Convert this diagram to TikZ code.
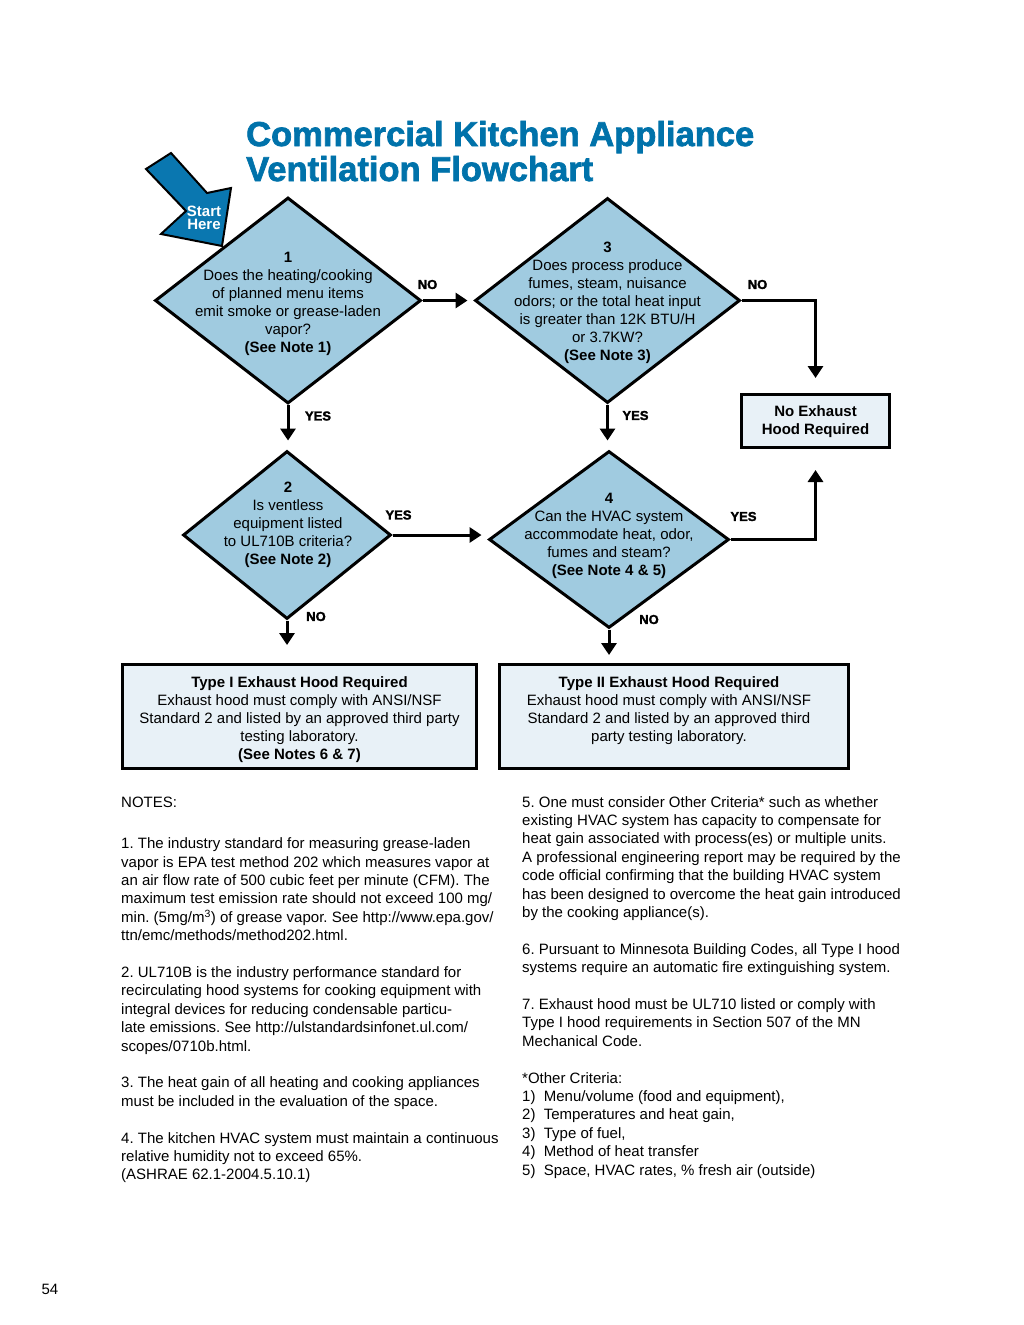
\documentclass[tikz,border=0pt]{standalone}
\usepackage{fontspec}
\setmainfont{Liberation Sans}
\newfontfamily\heavyfont[FakeBold=2]{Liberation Sans Bold}
\usetikzlibrary{shapes.geometric,arrows.meta,positioning,calc}
\definecolor{titleblue}{RGB}{0,114,170}
\definecolor{startblue}{RGB}{10,119,176}
\definecolor{qblue}{RGB}{160,203,224}
\definecolor{boxblue}{RGB}{232,241,247}
\frenchspacing

\begin{document}
\begin{tikzpicture}[x=1pt,y=-1pt,
  question/.style n args={2}{diamond,draw,line width=3pt,fill=qblue,inner sep=0pt,minimum width=#1,minimum height=#2},
  qtext/.style={align=center,inner sep=0pt,font=\fontsize{15}{18}\selectfont},
  result/.style n args={2}{rectangle,draw,line width=3pt,fill=boxblue,inner sep=0pt,minimum width=#1,minimum height=#2},
  flow/.style={line width=3pt,-{Triangle[width=15pt,length=12pt]}},
  lbl/.style={inner sep=0pt,font=\heavyfont\fontsize{13}{13}\selectfont},
  notes/.style={align=left,inner sep=0pt,anchor=north west,font=\fontsize{15}{18.4}\selectfont}]
\useasboundingbox (0,0) rectangle (1024,1325);

% title
\node[anchor=base west,inner sep=0pt,text=titleblue,font=\heavyfont\fontsize{34.5}{35}\selectfont] (title1) at (246,146) {Commercial Kitchen Appliance};
\node[anchor=base west,inner sep=0pt,text=titleblue,font=\heavyfont\fontsize{34.5}{35}\selectfont] (title2) at (246,181) {Ventilation Flowchart};

% questions
\node[question={266}{206}] (d1) at (288,300.5) {};
\node[question={265}{205}] (d3) at (607.5,300.5) {};
\node[question={208}{168}] (d2) at (287,535) {};
\node[question={240}{177}] (d4) at (609,539.5) {};

\node[qtext,yshift=-3pt] (q1) at (d1) {\textbf{1}\\Does the heating/cooking\\of planned menu items\\emit smoke or grease-laden\\vapor?\\\textbf{(See Note 1)}};
\node[qtext,yshift=-2pt] (q3) at (d3) {\textbf{3}\\Does process produce\\fumes, steam, nuisance\\odors; or the total heat input\\is greater than 12K BTU/H\\or 3.7KW?\\\textbf{(See Note 3)}};
\node[qtext,yshift=10pt,xshift=1pt] (q2) at (d2) {\textbf{2}\\Is ventless\\equipment listed\\to UL710B criteria?\\\textbf{(See Note 2)}};
\node[qtext,yshift=4pt] (q4) at (d4) {\textbf{4}\\Can the HVAC system\\accommodate heat, odor,\\fumes and steam?\\\textbf{(See Note 4 \& 5)}};

% results
\node[result={148}{53}] (noex) at (815.5,421) {};
\node[qtext,font=\bfseries\fontsize{15}{18}\selectfont,yshift=-1pt] (noext) at (noex) {No Exhaust\\Hood Required};
\node[result={354}{104}] (type1) at (299.5,716.5) {};
\node[result={349}{104}] (type2) at (674,716.5) {};
\node[qtext,anchor=north,yshift=-13pt] (type1t) at (type1.north) {\textbf{Type I Exhaust Hood Required}\\Exhaust hood must comply with ANSI/NSF\\Standard 2 and listed by an approved third party\\testing laboratory.\\\textbf{(See Notes 6 \& 7)}};
\node[qtext,anchor=north,yshift=-13pt] (type2t) at (type2.north -| 669,0) {\textbf{Type II Exhaust Hood Required}\\Exhaust hood must comply with ANSI/NSF\\Standard 2 and listed by an approved third\\party testing laboratory.};

% connectors
\draw[flow,shorten >=9pt] (d1.south) -- (d1.south |- d2.north) node[lbl,pos=0,xshift=30pt,yshift=-11pt] (y1) {YES};
\draw[flow,shorten >=6pt] (d1.east) -- (d3.west) node[lbl,pos=0,xshift=5pt,yshift=16pt] (n1) {NO};
\draw[flow,shorten >=15pt] (d3.east) -| (noex.north) node[lbl,pos=0,xshift=16pt,yshift=16pt] (n3) {NO};
\draw[flow,shorten >=9pt] (d3.south) -- (d3.south |- d4.north) node[lbl,pos=0,xshift=28pt,yshift=-11pt] (y3) {YES};
\draw[flow,shorten >=6pt] (d2.east) -- (d2.east -| d4.west) node[lbl,pos=0,xshift=6pt,yshift=20pt] (y2) {YES};
\draw[flow,shorten >=21pt] (d4.east) -| (noex.south) node[lbl,pos=0,xshift=13pt,yshift=23pt] (y4) {YES};
\draw[flow,shorten >=18pt] (d2.south) -- (d2.south |- type1.north) node[lbl,pos=0,xshift=29pt,yshift=4pt] (n2) {NO};
\draw[flow,shorten >=8pt] (d4.south) -- (d4.south |- type2.north) node[lbl,pos=0,xshift=40pt,yshift=10pt] (n4) {NO};

% start arrow
\draw[fill=startblue,line width=2pt,line join=miter] (146,169) -- (171,153) -- (207,193) -- (231,188) -- (222,246) -- (161,234) -- (186,211) -- cycle;
\node[align=center,inner sep=0pt,text=white,font=\bfseries\fontsize{15}{13}\selectfont] (start) at (204,218) {Start\\Here};

% notes
\node[notes] (notesl) at (121,797) {NOTES:\\[22.6pt]
1. The industry standard for measuring grease-laden\\
vapor is EPA test method 202 which measures vapor at\\
an air flow rate of 500 cubic feet per minute (CFM). The\\
maximum test emission rate should not exceed 100 mg/\\
min. (5mg/m\textsuperscript{3}) of grease vapor. See http://www.epa.gov/\\
ttn/emc/methods/method202.html.\\[18.4pt]
2. UL710B is the industry performance standard for\\
recirculating hood systems for cooking equipment with\\
integral devices for reducing condensable particu-\\
late emissions. See http://ulstandardsinfonet.ul.com/\\
scopes/0710b.html.\\[18.4pt]
3. The heat gain of all heating and cooking appliances\\
must be included in the evaluation of the space.\\[18.4pt]
4. The kitchen HVAC system must maintain a continuous\\
relative humidity not to exceed 65\%.\\
(ASHRAE 62.1-2004.5.10.1)};
\node[notes] (notesr) at (522,796) {5. One must consider Other Criteria* such as whether\\
existing HVAC system has capacity to compensate for\\
heat gain associated with process(es) or multiple units.\\
A professional engineering report may be required by the\\
code official confirming that the building HVAC system\\
has been designed to overcome the heat gain introduced\\
by the cooking appliance(s).\\[18.4pt]
6. Pursuant to Minnesota Building Codes, all Type I hood\\
systems require an automatic fire extinguishing system.\\[18.4pt]
7. Exhaust hood must be UL710 listed or comply with\\
Type I hood requirements in Section 507 of the MN\\
Mechanical Code.\\[18.4pt]
*Other Criteria:\\
1)\ \ Menu/volume (food and equipment),\\
2)\ \ Temperatures and heat gain,\\
3)\ \ Type of fuel,\\
4)\ \ Method of heat transfer\\
5)\ \ Space, HVAC rates, \% fresh air (outside)};

% page number
\node[inner sep=0pt,font=\fontsize{15}{18}\selectfont] (page) at (50,1289) {54};
\end{tikzpicture}
\end{document}
